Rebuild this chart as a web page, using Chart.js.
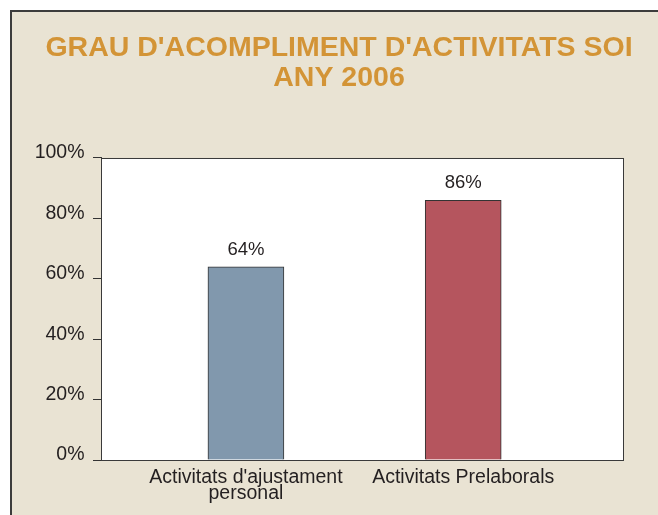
<!DOCTYPE html>
<html>
<head>
<meta charset="utf-8">
<script src="https://cdn.jsdelivr.net/npm/chart.js@4"></script>
<style>
  html, body { margin: 0; padding: 0; background: #fff; overflow: hidden; }
  #frame {
    position: absolute; left: 10px; top: 10px; width: 700px; height: 600px;
    background: #e9e3d3; border-left: 2px solid #3c3c3c; border-top: 2px solid #3c3c3c;
  }
  #wrap { position: absolute; left: 0; top: 0; width: 658px; height: 515px; }
</style>
</head>
<body>
<div id="frame"></div>
<div id="wrap"><canvas id="chart" width="658" height="515"></canvas></div>
<script>
// data
const categories = [["Activitats d'ajustament", "personal"], "Activitats Prelaborals"];
const values = [64, 86];
const barColors = ["#8198ad", "#b5555e"];
const yTicks = [0, 20, 40, 60, 80, 100];

const TEXT = "#231f20";
const FONT = "'Liberation Sans', Arial, sans-serif";

// white plot area with a dark border
const plotBox = {
  id: 'plotBox',
  beforeDraw(chart) {
    const a = chart.chartArea, ctx = chart.ctx;
    ctx.save();
    ctx.fillStyle = "#fff";
    ctx.fillRect(a.left, a.top, a.right - a.left, a.bottom - a.top);
    ctx.restore();
  },
  afterDraw(chart) {
    const a = chart.chartArea, ctx = chart.ctx;
    ctx.save();
    ctx.strokeStyle = "#3a3a3a";
    ctx.lineWidth = 1;
    ctx.strokeRect(a.left + 0.5, a.top + 0.5, a.right - a.left - 1, a.bottom - a.top);
    ctx.restore();
  }
};

// value labels above the bars
const barLabels = {
  id: 'barLabels',
  afterDatasetsDraw(chart) {
    const ctx = chart.ctx;
    const meta = chart.getDatasetMeta(0);
    ctx.save();
    ctx.font = "18.5px " + FONT;
    ctx.fillStyle = TEXT;
    ctx.textAlign = "center";
    ctx.textBaseline = "alphabetic";
    meta.data.forEach((bar, i) => {
      ctx.fillText(values[i] + "%", bar.x, bar.y - 12);
    });
    ctx.restore();
  }
};

const data = {
  datasets: [{
    data: values.map((v, i) => ({ x: i + 1, y: v })),
    backgroundColor: barColors,
    borderColor: "#333",
    borderWidth: 1,
    barThickness: 76
  }]
};

new Chart(document.getElementById('chart'), {
  type: 'bar',
  data: data,
  plugins: [plotBox, barLabels],
  options: {
    responsive: false,
    animation: false,
    layout: { padding: { left: 20, right: 0, top: 0, bottom: 0 } },
    plugins: {
      legend: { display: false },
      tooltip: { enabled: false },
      title: {
        display: true,
        text: ["GRAU D'ACOMPLIMENT D'ACTIVITATS SOI", "ANY 2006"],
        color: "#d39436",
        font: { family: FONT, size: 28.5, weight: 'bold', lineHeight: 1.07 },
        padding: { top: 32.5, bottom: 64.5 }
      }
    },
    scales: {
      x: {
        type: 'linear',
        min: 0.333,
        max: 2.74,
        offset: false,
        grid: { display: false, drawTicks: false, offset: false },
        border: { display: false },
        afterBuildTicks(scale) {
          scale.ticks = categories.map((c, i) => ({ value: i + 1 }));
        },
        afterFit(scale) { scale.height = 55; },
        ticks: {
          padding: 10,
          maxRotation: 0,
          autoSkip: false,
          color: TEXT,
          font: { family: FONT, size: 19.5, lineHeight: 0.8 },
          callback: (value, index) => categories[index]
        }
      },
      y: {
        min: 0,
        max: 100,
        afterBuildTicks(scale) {
          scale.ticks = yTicks.map(v => ({ value: v }));
        },
        afterFit(scale) { scale.width = 81; },
        grid: { drawOnChartArea: false, drawTicks: true, tickLength: 8, tickColor: "#333", lineWidth: 1 },
        border: { display: true, color: "#3a3a3a" },
        ticks: {
          padding: 8.5,
          labelOffset: -5,
          color: TEXT,
          font: { family: FONT, size: 19.5 },
          callback: v => v + "%"
        }
      },
      // empty strip on the right, keeps the plot narrower than the frame
      right: {
        position: 'right',
        min: 0,
        max: 100,
        grid: { display: false },
        border: { display: false },
        ticks: { display: false },
        afterFit(scale) { scale.width = 34; }
      }
    }
  }
});
</script>
</body>
</html>
